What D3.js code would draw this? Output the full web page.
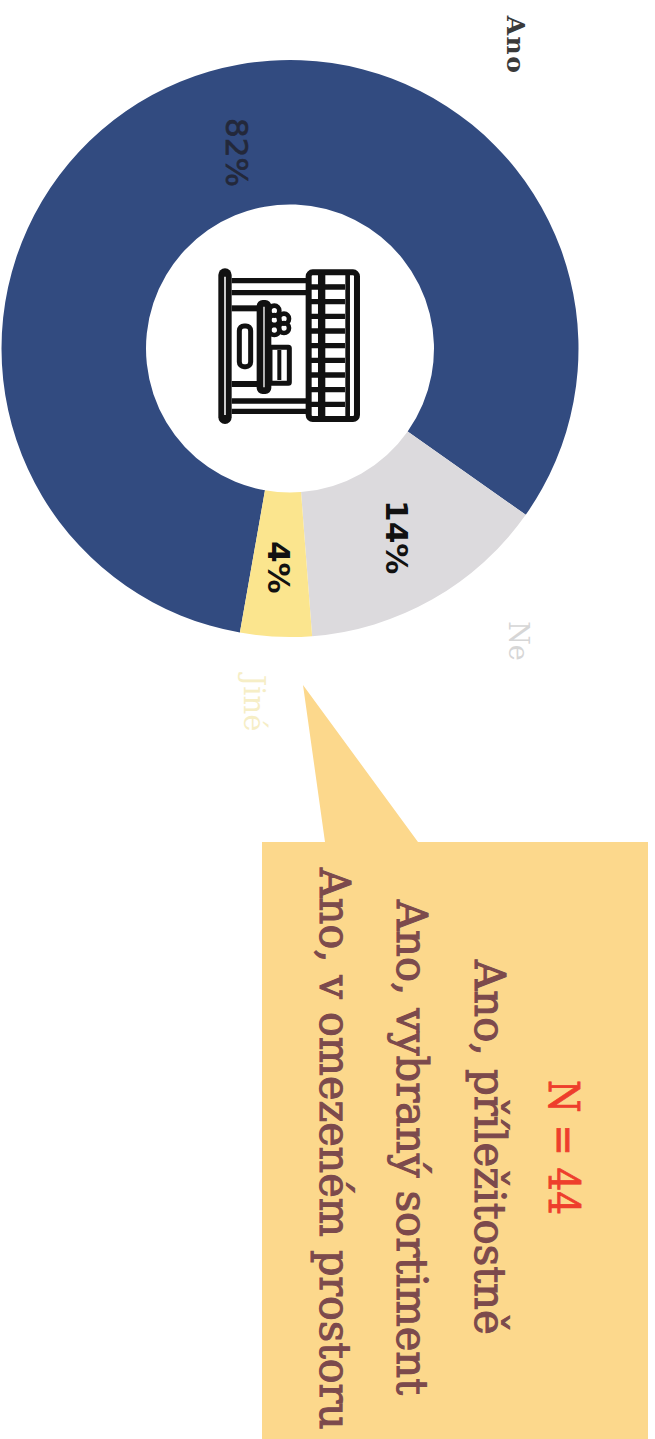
<!DOCTYPE html>
<html>
<head>
<meta charset="utf-8">
<script src="https://cdnjs.cloudflare.com/ajax/libs/d3/7.8.5/d3.min.js"></script>
<style>
html,body{margin:0;padding:0;background:#fff;overflow:hidden}
svg{display:block}
</style>
</head>
<body>
<svg id="chart" width="655" height="1439"></svg>
<script>
// Share of answers for each option
const categories = ["Ano", "Ne", "Jiné"];
const shares = [82, 14, 4];
const sliceColors = ["#324b80", "#dcdadd", "#fbe58e"];
const categoryLabelColors = ["#3a3a3a", "#d6d6d6", "#f6eec6"];
const sampleNote = "N = 44";
const calloutLines = ["Ano, příležitostně", "Ano, vybraný sortiment", "Ano, v omezeném prostoru"];

const svg = d3.select("#chart");
const cx = 290, cy = 348.5, outerR = 288.5, innerR = 144;
const deg = Math.PI / 180;

// Ring, turned so the first slice begins just past the bottom
const pie = d3.pie().sort(null).startAngle(190 * deg).endAngle(550 * deg);
const arc = d3.arc().innerRadius(innerR).outerRadius(outerR);
const arcs = pie(shares);
const ring = svg.append("g").attr("transform", `translate(${cx},${cy})`);
ring.selectAll("path").data(arcs).join("path")
  .attr("d", arc)
  .attr("fill", (d, i) => sliceColors[i]);

// Percentages sit on the ring; the whole page reads turned a quarter clockwise
const labelRadius = [203, 217, 219];
const labelAngleShift = [7.4, 0, 0];
ring.selectAll("text").data(arcs).join("text")
  .attr("transform", (d, i) => {
    const a = (d.startAngle + d.endAngle) / 2 + labelAngleShift[i] * deg;
    const [x, y] = d3.pointRadial(a, labelRadius[i]);
    return `translate(${x},${y}) rotate(90)`;
  })
  .attr("text-anchor", "middle")
  .attr("dominant-baseline", "central")
  .attr("font-family", "'DejaVu Sans', sans-serif")
  .attr("font-weight", (d, i) => i === 0 ? 400 : 700)
  .attr("font-size", 31)
  .attr("fill", (d, i) => i === 0 ? "#23283a" : "#111")
  .attr("stroke", (d, i) => i === 0 ? "#23283a" : "none")
  .attr("stroke-width", 0.7)
  .text(d => d.data + "%");

// Category names outside the ring
const namePositions = [[515, 45], [518, 641], [254, 703]];
const nameSizes = [25, 27, 29];
svg.append("g").selectAll("text").data(categories).join("text")
  .attr("transform", (d, i) => `translate(${namePositions[i][0]},${namePositions[i][1]}) rotate(90)`)
  .attr("text-anchor", "middle")
  .attr("dominant-baseline", "central")
  .attr("font-family", "'DejaVu Serif', serif")
  .attr("font-weight", (d, i) => i === 0 ? 700 : 400)
  .attr("font-size", (d, i) => nameSizes[i])
  .attr("letter-spacing", (d, i) => i === 0 ? 1.5 : 0)
  .attr("fill", (d, i) => categoryLabelColors[i])
  .text(d => d);

// Market stall pictogram in the hole of the ring
const icon = svg.append("g")
  .attr("transform", "translate(180,240) scale(0.3333)")
  .attr("fill", "none")
  .attr("stroke", "#111")
  .attr("stroke-width", 20);
const box = (x, y, w, h, r = 0, sw = 20) =>
  icon.append("rect").attr("x", x).attr("y", y).attr("width", w).attr("height", h).attr("rx", r).attr("stroke-width", sw);
const seg = (x1, y1, x2, y2, w = 20) =>
  icon.append("line").attr("x1", x1).attr("y1", y1).attr("x2", x2).attr("y2", y2).attr("stroke-width", w);
// counter front
seg(135, 105, 135, 532, 40).attr("stroke-linecap", "round");
seg(135, 110, 135, 525, 5).attr("stroke", "#eee");
// posts
seg(155, 122, 385, 122, 16); seg(155, 158, 385, 158, 16);
seg(155, 483, 385, 483, 16); seg(155, 514, 385, 514, 16);
// table
seg(155, 205, 240, 205, 18); seg(155, 432, 240, 432, 18);
box(240, 190, 24, 262, 8, 20);
box(178, 258, 34, 122, 14, 15);
// cakes and box
[[283, 212], [312, 236], [283, 240], [312, 264], [283, 270]].forEach(([x, y]) => {
  icon.append("circle").attr("cx", x).attr("cy", y).attr("r", 15).attr("stroke-width", 14);
});
box(270, 322, 58, 108, 3, 15);
seg(298, 330, 298, 420, 12);
// awning
box(386, 97, 145, 440, 12, 18);
seg(425, 100, 425, 535, 22);
seg(503, 100, 503, 535, 14);
d3.range(1, 10).forEach(k => seg(386, 97 + k * 44, 495, 97 + k * 44, 16));
seg(445, 140, 495, 140, 11);

// Speech-bubble callout running off the bottom edge
const bubble = d3.path();
bubble.moveTo(262, 842);
bubble.lineTo(325, 842);
bubble.lineTo(303, 685);
bubble.lineTo(418, 842);
bubble.lineTo(648, 842);
bubble.lineTo(648, 1439);
bubble.lineTo(262, 1439);
bubble.closePath();
svg.append("path").attr("d", bubble.toString()).attr("fill", "#fcd88c");

// Callout text: a tall slab look, each line fitted to its run along the box
const noteGroup = svg.append("g")
  .attr("font-family", "'DejaVu Serif', serif")
  .attr("text-anchor", "start");
const fitLine = (sel, x, y, run) => {
  const natural = sel.node().getComputedTextLength();
  sel.attr("transform", `translate(${x},${y}) rotate(90) scale(${run / natural},1.12)`);
};
const noteText = noteGroup.append("text")
  .attr("font-size", 39)
  .attr("fill", "#ee3e2c")
  .attr("stroke", "#ee3e2c")
  .attr("stroke-width", 0.8)
  .text(sampleNote);
fitLine(noteText, 549, 1080, 135);
const lineX = [475, 397, 320], lineY = [960, 900, 868], lineLength = [375, 495, 562];
noteGroup.selectAll("text.line").data(calloutLines).join("text")
  .attr("class", "line")
  .attr("font-size", 39)
  .attr("fill", "#7c4a4c")
  .attr("stroke", "#7c4a4c")
  .attr("stroke-width", 1)
  .text(d => d)
  .each(function (d, i) { fitLine(d3.select(this), lineX[i], lineY[i], lineLength[i]); });
</script>
</body>
</html>
